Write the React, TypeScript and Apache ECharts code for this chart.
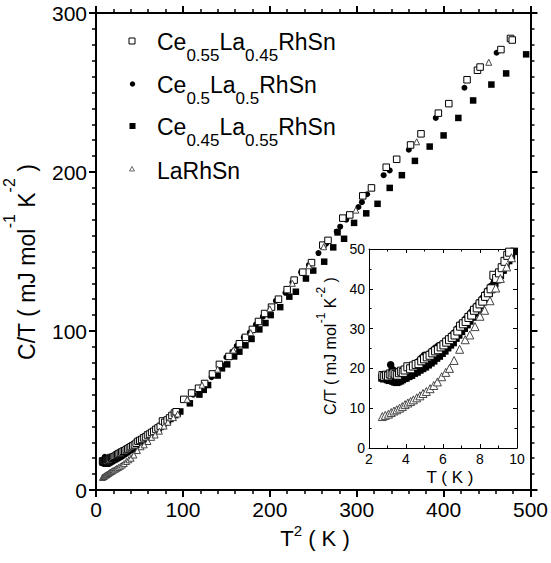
import React, { useEffect, useRef } from "react";
import * as echarts from "echarts";

// ---------- data ----------
// [T (K), C/T (mJ mol^-1 K^-2)] below 10 K (shown in the inset and in the main plot as T^2)
const ce055Low: number[][] = [
  [2.75, 18.2], [2.85, 18.0], [2.95, 18.3], [3.05, 18.1], [3.15, 18.6], [3.25, 18.4], [3.35, 18.8],
  [3.45, 18.5], [3.55, 18.3], [3.65, 18.9], [3.75, 19.3], [3.85, 19.0], [3.95, 19.6], [4.1, 20.4],
  [4.25, 19.9], [4.4, 20.6], [4.55, 21.0], [4.7, 21.2], [4.85, 21.9], [5.0, 22.4], [5.15, 22.9],
  [5.3, 23.3], [5.45, 23.9], [5.6, 24.4], [5.75, 24.7], [5.9, 25.4], [6.05, 25.9], [6.2, 26.6],
  [6.35, 27.2], [6.5, 27.8], [6.65, 28.4], [6.8, 29.4], [6.95, 30.6], [7.1, 31.2], [7.25, 31.8],
  [7.4, 32.8], [7.55, 33.4], [7.7, 34.6], [7.85, 35.2], [8.0, 36.2], [8.15, 36.9], [8.3, 38.1],
  [8.45, 39.0], [8.6, 40.0], [8.75, 43.4], [8.9, 42.6], [9.05, 44.0], [9.2, 45.3], [9.35, 46.9],
  [9.5, 48.4], [9.6, 49.2],
];
const ce05Low: number[][] = [
  [2.75, 17.6], [2.85, 17.9], [2.95, 18.2], [3.05, 18.6], [3.17, 20.9], [3.25, 19.8], [3.35, 19.4],
  [3.45, 19.1], [3.55, 18.9], [3.65, 18.7], [3.75, 19.2], [3.85, 19.5], [3.95, 19.4], [4.1, 19.8],
  [4.25, 20.2], [4.4, 20.8], [4.55, 21.3], [4.7, 21.8], [4.85, 22.6], [5.0, 23.3], [5.15, 23.0],
  [5.3, 23.8], [5.45, 24.5], [5.6, 25.1], [5.75, 25.6], [5.9, 25.9], [6.05, 26.4], [6.2, 27.0],
  [6.35, 27.6], [6.5, 28.3], [6.65, 29.0], [6.8, 30.0], [6.95, 31.0], [7.1, 31.6], [7.25, 32.5],
  [7.4, 33.3], [7.55, 34.2], [7.7, 35.0], [7.85, 35.8], [8.0, 36.7], [8.15, 37.6], [8.3, 38.6],
  [8.45, 39.6], [8.6, 40.6], [8.75, 41.4], [8.9, 42.3], [9.05, 43.2], [9.2, 44.6], [9.35, 46.2],
  [9.5, 47.5], [9.65, 48.4],
];
const ce045Low: number[][] = [
  [2.7, 17.6], [2.8, 17.4], [2.9, 17.5], [3.0, 17.2], [3.1, 17.0], [3.2, 17.1], [3.3, 16.8],
  [3.4, 16.6], [3.5, 16.5], [3.6, 16.7], [3.7, 16.9], [3.8, 17.2], [3.9, 17.5], [4.0, 17.6],
  [4.15, 18.0], [4.3, 18.3], [4.45, 18.8], [4.6, 19.1], [4.75, 19.6], [4.9, 20.0], [5.05, 20.4],
  [5.2, 20.9], [5.35, 21.4], [5.5, 21.9], [5.65, 22.6], [5.8, 23.1], [5.95, 23.8], [6.1, 24.4],
  [6.25, 25.2], [6.4, 25.9], [6.55, 26.5], [6.7, 27.6], [6.85, 28.4], [7.0, 29.3], [7.15, 30.1],
  [7.3, 31.0], [7.45, 31.9], [7.6, 32.9], [7.75, 33.9], [7.9, 34.9], [8.05, 35.8], [8.2, 36.9],
  [8.35, 37.9], [8.5, 39.0], [8.65, 40.1], [8.8, 41.3], [8.95, 42.3], [9.1, 43.4], [9.25, 44.7],
  [9.4, 45.9], [9.55, 47.1], [9.7, 48.3], [9.85, 49.4],
];
const laLow: number[][] = [
  [2.72, 7.9], [2.88, 8.2], [3.05, 8.5], [3.2, 8.9], [3.35, 9.3], [3.5, 9.6], [3.65, 10.0],
  [3.8, 10.4], [3.95, 10.9], [4.1, 11.3], [4.25, 11.7], [4.4, 12.1], [4.58, 12.6], [4.75, 13.1],
  [4.92, 13.7], [5.1, 14.2], [5.3, 14.9], [5.5, 15.7], [5.7, 16.6], [5.93, 17.9], [6.15, 19.0],
  [6.35, 20.0], [6.6, 22.0], [6.9, 24.8], [7.2, 27.2], [7.45, 28.4], [7.73, 30.5], [8.0, 33.1],
  [8.25, 34.6], [8.54, 37.0], [8.85, 40.2], [9.1, 42.6], [9.44, 45.5], [9.7, 47.8],
];

// [T^2 (K^2), C/T] above 100 K^2 (main plot only)
const ce055High: number[][] = [
  [101, 57], [110, 61], [118, 64], [125, 67], [134, 73], [142, 79], [153, 84], [165, 92],
  [172, 96], [180, 101], [187, 106], [194, 111], [202, 115], [210, 120], [220, 126], [228, 132],
  [238, 137], [248, 143], [261, 154], [267, 157], [284, 171], [292, 173], [307, 185], [317, 190],
  [334, 203], [346, 208], [362, 217], [374, 224], [394, 237], [406, 243], [427, 258], [439, 264],
  [442, 266], [466, 277], [477, 284], [479, 283],
];
const ce05High: number[][] = [
  [104, 57], [112, 60], [121, 64.6], [133, 71], [144, 79], [150, 83.5], [157, 87], [162, 90.6],
  [170, 96], [177, 99], [184, 104], [192, 109], [201, 113.6], [207, 119], [218, 124], [226, 130.6],
  [236, 137], [245, 141.5], [256, 149], [265, 155], [277, 162.5], [281, 165.6], [288, 170],
  [302, 178], [306, 181], [312, 186], [331, 198], [338, 201], [360, 214], [391, 234], [424, 253],
  [461, 275],
];
const ce045High: number[][] = [
  [108, 54.5], [119, 60], [124, 63], [129, 66], [140, 72], [145, 76.5], [151, 79], [159, 84],
  [165, 87], [172, 91], [179, 95], [188, 101], [195, 105], [201, 110], [212, 115], [222.5, 121.6],
  [230, 124.7], [241.6, 133], [250, 138], [262.6, 143.6], [273, 152.6], [278, 162], [285.5, 158],
  [297, 168], [311, 174], [324, 180], [338, 190], [352, 198], [367, 207], [384, 216], [400, 223],
  [417, 234], [434, 245], [455, 255], [472, 262], [495, 274],
];
const laHigh: number[][] = [
  [105, 57], [122, 66], [140, 76], [158, 88], [178, 99], [200, 114], [226, 130], [245, 141],
  [262, 153], [299, 176], [369, 219], [452, 269],
];

const seriesNames = ["Ce0.55La0.45RhSn", "Ce0.5La0.5RhSn", "Ce0.45La0.55RhSn", "LaRhSn"];
// legend labels split into [text, isSubscript]
const legendParts: [string, boolean][][] = [
  [["Ce", false], ["0.55", true], ["La", false], ["0.45", true], ["RhSn", false]],
  [["Ce", false], ["0.5", true], ["La", false], ["0.5", true], ["RhSn", false]],
  [["Ce", false], ["0.45", true], ["La", false], ["0.55", true], ["RhSn", false]],
  [["LaRhSn", false]],
];
// axis titles split into [text, isSuperscript]
const xTitleParts: [string, boolean][] = [["T", false], ["2", true], [" ( K )", false]];
const yTitleParts: [string, boolean][] = [
  ["C/T ( mJ mol", false], ["-1", true], [" K", false], ["-2", true], [" )", false],
];
const insetXTitle = "T ( K )";

// ---------- styling ----------
const FONT = "'Liberation Sans', Arial, Helvetica, sans-serif";
const BLACK = "#000";

const toMain = (low: number[][], high: number[][]) =>
  low.map(([t, c]) => [t * t, c]).concat(high);

const styles = [
  { symbol: "rect", main: 6.5, inset: 8, color: "#fff", border: BLACK, bw: 1 },
  { symbol: "circle", main: 6, inset: 7.5, color: BLACK, border: BLACK, bw: 0 },
  { symbol: "rect", main: 6.5, inset: 7.5, color: BLACK, border: BLACK, bw: 0 },
  { symbol: "triangle", main: 6, inset: 8, color: "#fff", border: "#444", bw: 1 },
];
const lowSets = [ce055Low, ce05Low, ce045Low, laLow];
const highSets = [ce055High, ce05High, ce045High, laHigh];
const drawOrder = [2, 1, 0, 3];

let measureCtx: CanvasRenderingContext2D | null = null;
function measure(text: string, size: number) {
  if (!measureCtx) measureCtx = document.createElement("canvas").getContext("2d");
  if (!measureCtx) return text.length * size * 0.55;
  measureCtx.font = `${size}px ${FONT}`;
  return measureCtx.measureText(text).width;
}

// lay out text runs along local x; each run centred vertically at its offset
function textRuns(
  parts: [string, boolean][], mainSize: number, smallSize: number, smallOffset: number,
  startX: number, centreY: number, align: "left" | "center",
) {
  const widths = parts.map(([t, small]) => measure(t, small ? smallSize : mainSize));
  const total = widths.reduce((a, b) => a + b, 0);
  let x = align === "center" ? startX - total / 2 : startX;
  const els: any[] = [];
  parts.forEach(([t, small], i) => {
    const size = small ? smallSize : mainSize;
    const trimmed = t.replace(/^\s+/, "");
    const lead = t.length - trimmed.length;
    const leadW = lead ? measure(" ".repeat(lead), size) : 0;
    els.push({
      type: "text",
      style: {
        x: x + leadW,
        y: centreY + (small ? smallOffset : 0),
        text: trimmed.replace(/\s+$/, ""),
        fontSize: size,
        fontFamily: FONT,
        fill: BLACK,
        align: "left",
        verticalAlign: "middle",
      },
    });
    x += widths[i];
  });
  return els;
}

function mainAxis(extra: any, showLabel: boolean) {
  return {
    type: "value",
    gridIndex: 0,
    axisLine: { show: true, onZero: false, lineStyle: { color: BLACK, width: 2 } },
    axisTick: { show: true, length: 7, lineStyle: { color: BLACK, width: 2 } },
    axisLabel: { show: showLabel, fontSize: 21, color: BLACK, fontFamily: FONT, margin: 9 },
    splitLine: { show: false },
    minorSplitLine: { show: false },
    ...extra,
  };
}
function insetAxis(extra: any, showLabel: boolean) {
  return {
    type: "value",
    gridIndex: 1,
    axisLine: { show: true, onZero: false, lineStyle: { color: BLACK, width: 1 } },
    axisTick: { show: true, inside: true, length: 4, lineStyle: { color: BLACK, width: 1 } },
    minorTick: { show: true, length: 2.5, splitNumber: 2, lineStyle: { color: BLACK, width: 1 } },
    axisLabel: { show: showLabel, fontSize: 14, color: BLACK, fontFamily: FONT, margin: 4 },
    splitLine: { show: false },
    minorSplitLine: { show: false },
    ...extra,
  };
}

function buildOption() {
  const series: any[] = [];
  drawOrder.forEach((i) => {
    const s = styles[i];
    series.push({
      type: "scatter",
      name: seriesNames[i],
      xAxisIndex: 0,
      yAxisIndex: 0,
      data: toMain(lowSets[i], highSets[i]),
      symbol: s.symbol,
      symbolSize: s.main,
      itemStyle: { color: s.color, borderColor: s.border, borderWidth: s.bw, opacity: 1 },
      silent: true,
    });
  });
  drawOrder.forEach((i) => {
    const s = styles[i];
    series.push({
      type: "scatter",
      name: seriesNames[i] + " (inset)",
      xAxisIndex: 2,
      yAxisIndex: 2,
      data: lowSets[i],
      symbol: s.symbol,
      symbolSize: s.inset,
      itemStyle: { color: s.color, borderColor: s.border, borderWidth: s.bw, opacity: 1 },
      silent: true,
    });
  });

  const legendRows = [41.5, 85, 126.5, 170.5];
  const graphic: any[] = [];
  // legend markers
  graphic.push({ type: "rect", shape: { x: 129, y: 38, width: 6, height: 6 }, style: { fill: "#fff", stroke: BLACK, lineWidth: 1 } });
  graphic.push({ type: "circle", shape: { cx: 132.5, cy: 84, r: 2.7 }, style: { fill: BLACK } });
  graphic.push({ type: "rect", shape: { x: 129.5, y: 123, width: 6, height: 6 }, style: { fill: BLACK } });
  graphic.push({ type: "polygon", shape: { points: [[132, 166.5], [129.5, 171], [134.5, 171]] }, style: { fill: "#fff", stroke: "#444", lineWidth: 0.8 } });
  legendParts.forEach((parts, k) => {
    graphic.push(...textRuns(parts, 23, 17, 13.5, 157, legendRows[k], "left"));
  });
  // main x title
  graphic.push(...textRuns(xTitleParts, 22, 15, -7.5, 315, 538, "center"));
  // main y title (rotated, reads bottom to top)
  graphic.push({
    type: "group", x: 26.5, y: 262, rotation: Math.PI / 2,
    children: textRuns(yTitleParts, 23, 16, -17, 0, 0, "center"),
  });
  // inset y title
  graphic.push({
    type: "group", x: 330.5, y: 346, rotation: Math.PI / 2,
    children: textRuns(yTitleParts, 16, 12, -10, 0, 0, "center"),
  });
  // inset x title
  graphic.push({
    type: "text",
    style: { x: 450, y: 477.5, text: insetXTitle, fill: BLACK, fontFamily: FONT, fontSize: 17, align: "center", verticalAlign: "middle" },
  });

  const mainMinor = (n: number) => ({ show: true, splitNumber: n, length: 4, lineStyle: { color: BLACK, width: 1.5 } });

  return {
    animation: false,
    backgroundColor: "#fff",
    textStyle: { fontFamily: FONT },
    grid: [
      { left: 96, top: 13, width: 436, height: 477 },
      { left: 369, top: 249, width: 148, height: 199 },
    ],
    xAxis: [
      mainAxis({ min: 0, max: 500, interval: 100, position: "bottom", minorTick: mainMinor(5) }, true),
      mainAxis({ min: 0, max: 500, interval: 100, position: "top", minorTick: mainMinor(5) }, false),
      insetAxis({ min: 2, max: 10, interval: 2, position: "bottom" }, true),
      insetAxis({ min: 2, max: 10, interval: 2, position: "top" }, false),
    ],
    yAxis: [
      mainAxis({ min: 0, max: 300, interval: 100, position: "left", minorTick: mainMinor(10) }, true),
      mainAxis({ min: 0, max: 300, interval: 100, position: "right", minorTick: mainMinor(10) }, false),
      insetAxis({ min: 0, max: 50, interval: 10, position: "left" }, true),
      insetAxis({ min: 0, max: 50, interval: 10, position: "right" }, false),
    ],
    series,
    graphic,
  };
}

export default function App() {
  const ref = useRef<HTMLDivElement>(null);
  useEffect(() => {
    if (!ref.current) return;
    const chart = echarts.init(ref.current, null, { renderer: "svg" });
    chart.setOption(buildOption() as any);
    return () => chart.dispose();
  }, []);
  return (
    <div
      ref={ref}
      style={{ position: "absolute", left: 0, top: 0, width: 551, height: 563, background: "#fff" }}
    />
  );
}
